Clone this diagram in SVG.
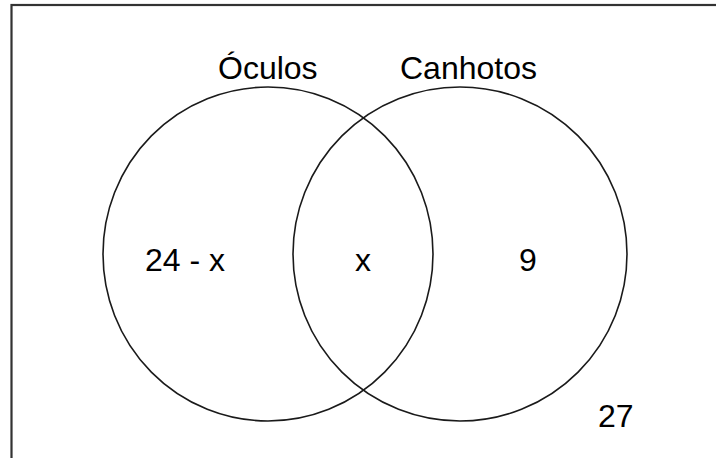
<svg xmlns="http://www.w3.org/2000/svg" width="716" height="458" viewBox="0 0 716 458">
<style>
.t{font-family:"Liberation Sans",Arial,sans-serif;font-size:32px;fill:#000}
.c{fill:none;stroke:#1a1a1a;stroke-width:1.6}
</style>
<rect x="0" y="0" width="716" height="458" fill="#fff"/>
<rect x="11.5" y="5" width="800" height="800" fill="none" stroke="#333" stroke-width="2.2"/>
<g id="oculos">
<ellipse class="c" cx="268" cy="254" rx="165" ry="167"/>
<text class="t" x="218" y="79">Óculos</text>
</g>
<g id="canhotos">
<ellipse class="c" cx="460" cy="254" rx="167" ry="167"/>
<text class="t" x="400" y="79">Canhotos</text>
</g>
<g id="labels">
<text class="t" x="145" y="271">24 - x</text>
<text class="t" x="355" y="271">x</text>
<text class="t" x="519" y="271">9</text>
<text class="t" x="598" y="427">27</text>
</g>
</svg>
